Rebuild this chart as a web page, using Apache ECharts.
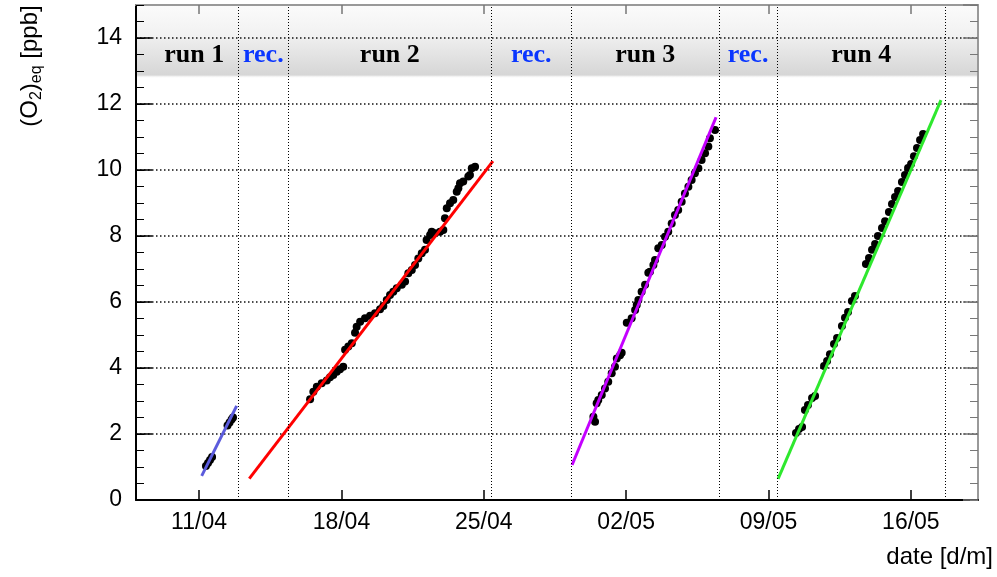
<!DOCTYPE html>
<html><head><meta charset="utf-8">
<script src="https://cdn.jsdelivr.net/npm/echarts@6/dist/echarts.min.js"></script>
<style>html,body{margin:0;padding:0;background:#fff}#c{width:997px;height:577px}</style>
</head><body><div id="c"></div>
<script>
// x values are days counted from 11/04
const xTickDays = [0, 7, 14, 21, 28, 35];
const xTickLabels = ['11/04', '18/04', '25/04', '02/05', '09/05', '16/05'];
const periodNames = ['run 1', 'rec.', 'run 2', 'rec.', 'run 3', 'rec.', 'run 4'];
const periodEdges = [-2.4, 1.92, 4.40, 14.36, 18.31, 25.57, 28.42, 36.70];

const run1 = [[0.34,1.03],[0.44,1.12],[0.54,1.21],[0.64,1.30],
  [1.40,2.26],[1.50,2.35],[1.60,2.44],[1.67,2.50]];
const run2 = [[5.46,3.05],[5.62,3.28],[5.79,3.43],[6.03,3.54],[6.28,3.62],[6.44,3.72],[6.60,3.79],
  [6.77,3.89],[6.93,3.96],[7.09,4.04],[7.18,4.55],[7.34,4.65],[7.51,4.75],[7.67,5.07],[7.75,5.25],
  [7.92,5.40],[8.16,5.51],[8.41,5.58],[8.65,5.66],[8.90,5.78],[9.06,5.88],[9.23,6.06],[9.39,6.21],
  [9.55,6.31],[9.72,6.42],[9.97,6.52],[10.13,6.62],[10.29,6.87],[10.46,6.97],[10.62,7.12],[10.78,7.32],
  [10.95,7.48],[11.11,7.58],[11.19,7.88],[11.36,8.03],[11.44,8.13],[11.60,8.08],[11.85,8.13],
  [12.01,8.18],[12.09,8.54],[12.18,8.84],[12.34,8.99],[12.50,9.09],[12.67,9.34],[12.75,9.45],
  [12.83,9.60],[12.99,9.65],[13.24,9.80],[13.32,9.85],[13.41,10.05],[13.57,10.10]];
const run3 = [[19.39,2.52],[19.47,2.37],[19.55,2.93],[19.63,3.03],[19.80,3.18],[19.96,3.38],
  [20.12,3.58],[20.29,3.84],[20.45,4.04],[20.54,4.29],[20.70,4.39],[20.78,4.46],[21.03,5.37],
  [21.27,5.51],[21.44,5.76],[21.52,5.91],[21.60,6.06],[21.76,6.31],[21.93,6.52],[22.09,6.89],
  [22.17,6.92],[22.34,7.12],[22.42,7.27],[22.58,7.63],[22.75,7.73],[22.91,7.98],[23.07,8.13],
  [23.24,8.38],[23.40,8.64],[23.56,8.79],[23.73,9.04],[23.89,9.29],[24.06,9.49],[24.22,9.70],
  [24.38,9.90],[24.55,10.05],[24.71,10.30],[24.88,10.51],[25.04,10.71],[25.12,10.96],[25.37,11.21]];
const run4 = [[29.35,2.03],[29.50,2.15],[29.65,2.21],[29.79,2.73],[29.94,2.88],[30.14,3.09],
  [30.29,3.15],[30.73,4.06],[30.88,4.21],[31.02,4.42],[31.22,4.73],[31.37,4.91],[31.61,5.27],
  [31.76,5.52],[31.91,5.70],[32.10,6.03],[32.25,6.18],[32.79,7.15],[32.94,7.33],[33.09,7.58],
  [33.24,7.76],[33.38,8.00],[33.58,8.24],[33.73,8.45],[33.92,8.73],[34.07,8.97],[34.22,9.18],
  [34.37,9.36],[34.56,9.64],[34.71,9.85],[34.86,10.06],[35.01,10.18],[35.15,10.42],[35.30,10.67],
  [35.45,10.91],[35.60,11.09]];

const fit1 = [[0.13,0.73],[1.85,2.85]];
const fit2 = [[2.47,0.65],[14.45,10.27]];
const fit3 = [[18.34,1.06],[25.42,11.60]];
const fit4 = [[28.47,0.64],[36.48,12.12]];

const fitColors = ['#5b5bdc', '#ff0000', '#c400ff', '#2ee82e'];
const X_MIN = -3.1, X_MAX = 38.3, Y_MIN = 0, Y_MAX = 15;
const BAND_LOW = 12.88, BAND_MID = 14.05;

const chart = echarts.init(document.getElementById('c'));

const labelData = periodNames.map((n, i) => ({
  value: [(periodEdges[i] + periodEdges[i + 1]) / 2, (BAND_LOW + BAND_MID) / 2],
  label: { color: n === 'rec.' ? '#0a36ff' : '#000' }
}));

const grad = (a, b) => ({ type: 'linear', x: 0, y: 0, x2: 0, y2: 1,
  colorStops: [{ offset: 0, color: a }, { offset: 1, color: b }] });

const dotted = { color: '#111', width: 1.5, type: [1.5, 2.5] };

chart.setOption({
  animation: false,
  grid: { left: 136, right: 19, top: 5, bottom: 77, show: false },
  xAxis: [
    { type: 'value', position: 'bottom', min: X_MIN, max: X_MAX,
      axisLine: { show: true, onZero: false, lineStyle: { color: '#000', width: 2 } },
      axisTick: { show: true, inside: true, length: 10, customValues: xTickDays, lineStyle: { color: '#000', width: 1.5 } },
      axisLabel: { show: true, customValues: xTickDays, margin: 11, fontSize: 23, color: '#000',
        fontFamily: 'Liberation Sans',
        formatter: v => { const i = xTickDays.indexOf(Math.round(v)); return i >= 0 ? xTickLabels[i] : ''; } },
      splitLine: { show: false } },
    { type: 'value', position: 'top', min: X_MIN, max: X_MAX,
      axisLine: { show: true, onZero: false, lineStyle: { color: '#999', width: 2 } },
      axisTick: { show: true, inside: true, length: 9, customValues: xTickDays, lineStyle: { color: '#777', width: 1.5 } },
      axisLabel: { show: false }, splitLine: { show: false } }
  ],
  yAxis: [
    { type: 'value', position: 'left', min: Y_MIN, max: Y_MAX, interval: 2,
      axisLine: { show: true, onZero: false, lineStyle: { color: '#000', width: 2 } },
      axisTick: { show: true, inside: true, length: 16, lineStyle: { color: '#000', width: 1.5 } },
      axisLabel: { show: true, margin: 14, fontSize: 23, color: '#000', fontFamily: 'Liberation Sans', showMaxLabel: false },
      splitLine: { show: true, lineStyle: dotted } },
    { type: 'value', position: 'left', min: Y_MIN, max: Y_MAX, interval: 0.5,
      axisLine: { show: false, onZero: false },
      axisTick: { show: true, inside: true, length: 8, lineStyle: { color: '#000', width: 1 } },
      axisLabel: { show: false }, splitLine: { show: false } },
    { type: 'value', position: 'right', min: Y_MIN, max: Y_MAX, interval: 2,
      axisLine: { show: true, onZero: false, lineStyle: { color: '#999', width: 2 } },
      axisTick: { show: true, inside: true, length: 15, lineStyle: { color: '#777', width: 1.5 } },
      axisLabel: { show: false }, splitLine: { show: false } },
    { type: 'value', position: 'right', min: Y_MIN, max: Y_MAX, interval: 0.5,
      axisLine: { show: false, onZero: false },
      axisTick: { show: true, inside: true, length: 8, lineStyle: { color: '#777', width: 1 } },
      axisLabel: { show: false }, splitLine: { show: false } }
  ],
  series: [
    { type: 'line', data: [], silent: true,
      markArea: { silent: true, z: -1, data: [
        [{ yAxis: BAND_MID, itemStyle: { color: grad('#fbfbfb', '#f1f1f1') } }, { yAxis: Y_MAX }],
        [{ yAxis: BAND_LOW, itemStyle: { color: grad('#efefef', '#d6d6d6') } }, { yAxis: BAND_MID }],
        [{ yAxis: BAND_LOW - 0.1, itemStyle: { color: grad('#d2d2d2', 'rgba(255,255,255,0)') } }, { yAxis: BAND_LOW }]
      ] },
      markLine: { silent: true, symbol: ['none', 'none'], label: { show: false },
        lineStyle: { color: '#000', width: 1, type: [1, 2] },
        data: periodEdges.slice(1).map(d => ({ xAxis: d })) } },
    ...[run1, run2, run3, run4].map(r => ({
      type: 'scatter', data: r, symbol: 'circle', symbolSize: 8, z: 2,
      itemStyle: { color: '#000', opacity: 1 }, silent: true })),
    ...[fit1, fit2, fit3, fit4].map((f, i) => ({
      type: 'line', data: f, symbol: 'none', z: 3, silent: true,
      lineStyle: { color: fitColors[i], width: 3 } })),
    { type: 'scatter', data: labelData, symbolSize: 0, z: 6, silent: true,
      itemStyle: { opacity: 1 },
      label: { show: true, position: 'inside', formatter: p => periodNames[p.dataIndex], opacity: 1,
        fontFamily: 'Liberation Serif', fontWeight: 'bold', fontSize: 26 } }
  ],
  graphic: [
    { type: 'text', x: 30, y: 66, rotation: Math.PI / 2, silent: true,
      style: { text: '(O{s|2}){s|eq} [ppb]', fontFamily: 'Liberation Sans', fontSize: 24,
        lineHeight: 30, fill: '#000', align: 'center', verticalAlign: 'middle',
        rich: { s: { fontFamily: 'Liberation Sans', fontSize: 16, lineHeight: 16, verticalAlign: 'bottom', fill: '#000' } } } },
    { type: 'text', x: 993, y: 557, silent: true,
      style: { text: 'date [d/m]', fontFamily: 'Liberation Sans', fontSize: 24, fill: '#000',
        align: 'right', verticalAlign: 'middle' } }
  ]
});
</script></body></html>
